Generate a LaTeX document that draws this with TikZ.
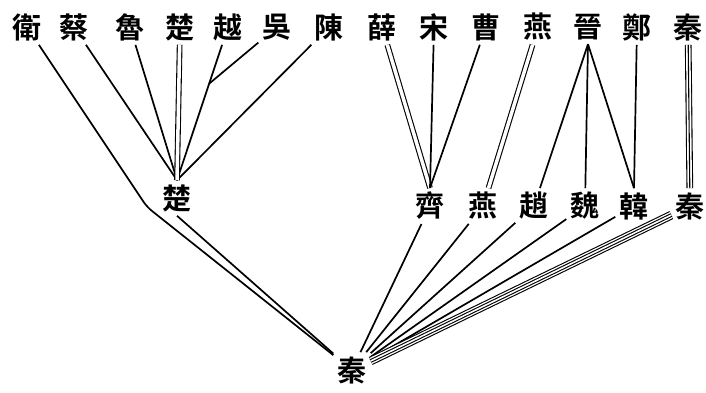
\documentclass[tikz,border=0pt]{standalone}
\usepackage{fontspec}
\newfontfamily\cjk{Noto Sans CJK TC}[BoldFont={* Bold}]
\usepackage{tikz}
\usetikzlibrary{calc}

\begin{document}
\begin{tikzpicture}[x=1pt,y=-1pt,
  state/.style={inner sep=4pt,font=\cjk\bfseries\fontsize{29}{29}\selectfont},
  link/.style={line width=1.7pt},
  twin/.style={double,line width=1.1pt,double distance=3.5pt}]
  \useasboundingbox (0,0) rectangle (706,393);
  % top row
  \foreach \n/\x/\t in {wei/27/衛,cai/74/蔡,lu/130/魯,chu/180/楚,yue/228/越,wu/277/吳,chen/329/陳,xue/382/薛,song/434/宋,cao/486/曹,yan/538/燕,jin/588/晉,zheng/637/鄭,qin/688/秦}
    \node[state] (\n) at (\x,27) {\t};
  % middle row
  \node[state] (chu2) at (177,198) {楚};
  \foreach \n/\x/\t in {qi/430/齊,yan2/483/燕,zhao/534/趙,wei2/585/魏,han/634/韓,qin2/690/秦}
    \node[state] (\n) at (\x,206) {\t};
  % bottom
  \node[state] (qin3) at (352,370) {秦};
  \coordinate (bend) at (147,207);
  \coordinate (wuyue) at ($(yue)!0.37!(chu2.north)$);
  % left group
  \draw[link,rounded corners=6pt] (wei) -- (bend) -- (qin3);
  \foreach \n in {cai,lu,yue,chen} \draw[link] (\n) -- (chu2.north);
  \draw[twin] (chu) -- (chu2.north);
  \draw[link] (wu) -- (wuyue);
  \draw[link] (chu2.south) -- (qin3);
  % right group
  \draw[twin] (xue) -- (qi.north);
  \foreach \n in {song,cao} \draw[link] (\n) -- (qi.north);
  \draw[twin] (yan) -- (yan2);
  \foreach \n in {zhao,wei2} \draw[link] (jin.south) -- (\n);
  \draw[link] (jin.south) -- (han.north);
  \draw[link] (zheng) -- (han.north);
  \draw[twin,double distance=4.5pt] (qin) -- (qin2);
  \draw[line width=1.1pt] (qin) -- (qin2);
  % to qin
  \foreach \n in {qi,yan2,zhao,wei2,han} \draw[link] (\n) -- (qin3);
  \draw[twin,double distance=6.5pt] (qin2) -- (qin3);
  \draw[twin,double distance=1.6pt] (qin2) -- (qin3);
\end{tikzpicture}
\end{document}
